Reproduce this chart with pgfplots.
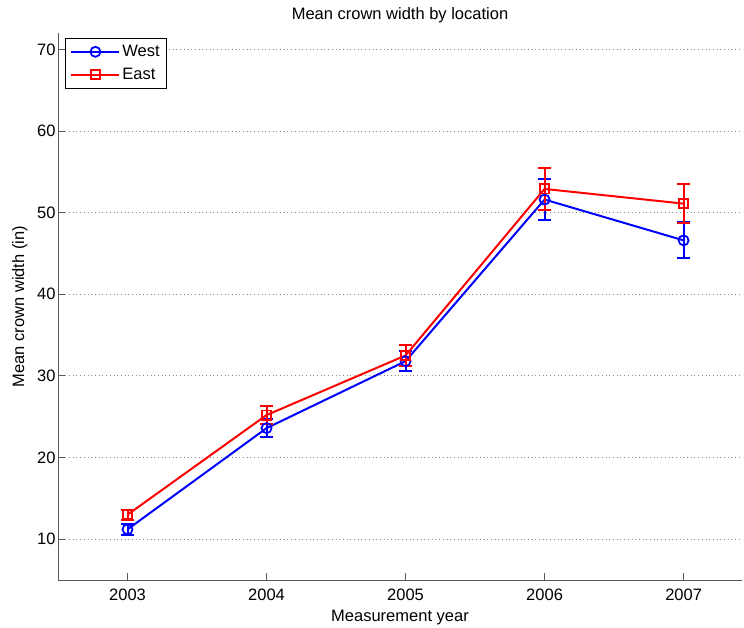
\documentclass[border=0pt]{standalone}
\usepackage{pgfplots}
\pgfplotsset{compat=1.18}
\usepackage{pgfplotstable}
\usepackage{fontspec}
\setmainfont{Liberation Sans}
\definecolor{mblue}{RGB}{0,0,255}
\definecolor{mred}{RGB}{255,0,0}
\newcommand{\mf}{\fontsize{16.5}{19}\selectfont}
\pgfplotstableread{
year mean err
2003 11.2 0.7
2004 23.6 1.1
2005 31.8 1.2
2006 51.6 2.5
2007 46.6 2.2
}\west
\pgfplotstableread{
year mean err
2003 13.0 0.6
2004 25.2 1.1
2005 32.5 1.3
2006 52.9 2.6
2007 51.1 2.4
}\east
\begin{document}
\begin{tikzpicture}[font=\mf]
\path[use as bounding box] (0,0) rectangle (744pt,628pt);
\begin{axis}[
  at={(58pt,48pt)}, anchor=south west,
  scale only axis, width=684pt, height=547pt,
  xmin=2002.5, xmax=2007.42, ymin=5, ymax=72,
  axis lines*=left,
  axis line style={black!65, line width=0.9pt},
  tick align=inside, major tick length=7pt,
  tick style={black!65, line width=0.9pt},
  xtick={2003,2004,2005,2006,2007},
  ytick={10,20,30,40,50,60,70},
  /pgf/number format/assume math mode=true,
  /pgf/number format/1000 sep={},
  tick label style={font=\mf},
  xticklabel style={yshift=-5pt},
  yticklabel style={xshift=1pt},
  ymajorgrids,
  grid style={black!45, line width=0.9pt, dash pattern=on 1pt off 2.7pt},
  title={Mean crown width by location},
  title style={at={(axis description cs:0.5,1.022)}, anchor=center, font=\mf},
  xlabel={Measurement year},
  xlabel style={at={(axis description cs:0.5,-0.068)}, anchor=center, font=\mf},
  ylabel={Mean crown width (in)},
  ylabel style={at={(axis description cs:-0.0556,0.5)}, anchor=center, font=\mf},
  legend style={at={(axis description cs:0.0102,0.991)}, anchor=north west,
    draw=black, line width=0.9pt, font=\mf,
    inner xsep=5pt, inner ysep=5pt, row sep=6pt},
  legend cell align=left,
  legend image code/.code={\draw[mark repeat=2,mark phase=2] plot coordinates {(0pt,0pt)(24pt,0pt)(48pt,0pt)};},
]
\addplot[mblue, line width=2pt, mark=o, mark size=5pt, mark options={line width=1.8pt},
  error bars/.cd, y dir=both, y explicit,
  error bar style={line width=2pt},
  error mark options={rotate=90, mark size=6.5pt, line width=2pt}]
  table[x=year, y=mean, y error=err] {\west};
\addlegendentry{West}
\addplot[mred, line width=2pt, mark=square, mark size=4.6pt, mark options={line width=1.8pt},
  error bars/.cd, y dir=both, y explicit,
  error bar style={line width=2pt},
  error mark options={rotate=90, mark size=6.5pt, line width=2pt}]
  table[x=year, y=mean, y error=err] {\east};
\addlegendentry{East}
\end{axis}
\end{tikzpicture}
\end{document}
